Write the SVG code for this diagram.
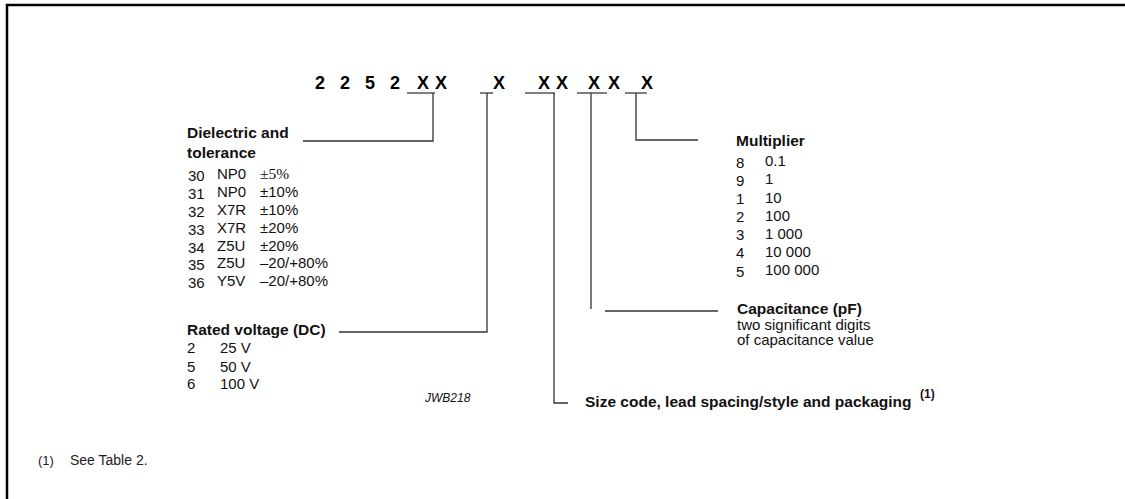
<svg xmlns="http://www.w3.org/2000/svg" width="1125" height="499" viewBox="0 0 1125 499">
<style>
text{font-family:"Liberation Sans",Arial,sans-serif;fill:#111}
.b{font-weight:bold;font-size:15.5px}
.r{font-size:15px}
.code{font-weight:bold;font-size:18px;fill:#000}
.ln{stroke:#333;stroke-width:1.3;fill:none}
.ul{stroke:#555;stroke-width:1.6;fill:none}
</style>
<rect width="1125" height="499" fill="#fff"/>
<path d="M7,499 V5 H1125" fill="none" stroke="#000" stroke-width="2.5"/>

<g id="code">
<text class="code" x="315" y="89">2</text>
<text class="code" x="340" y="89">2</text>
<text class="code" x="365" y="89">5</text>
<text class="code" x="390" y="89">2</text>
<text class="code" x="417" y="89">X</text>
<text class="code" x="435" y="89">X</text>
<text class="code" x="493" y="89">X</text>
<text class="code" x="538" y="89">X</text>
<text class="code" x="556" y="89">X</text>
<text class="code" x="588" y="89">X</text>
<text class="code" x="608" y="89">X</text>
<text class="code" x="641" y="89">X</text>
<path class="ul" d="M407,93 H435 M480,93 H493 M525,93 H555 M577,93 H607 M625,93 H647"/>
</g>

<g id="connectors">
<path class="ln" d="M433,93 V141 H303"/>
<path class="ln" d="M487,93 V332 H339"/>
<path class="ln" d="M554,93 V403 H568"/>
<path class="ln" d="M591,93 V309"/>
<path class="ln" d="M605,311 H718"/>
<path class="ln" d="M636,93 V140 H698"/>
</g>

<g id="dielectric">
<text class="b" x="187" y="138">Dielectric and</text>
<text class="b" x="187" y="158">tolerance</text>
<text class="r" x="188" y="180.5">30</text><text class="r" x="217" y="178.5">NP0</text><text x="260" y="178.5" style="font-family:'Liberation Serif',serif;font-size:15.5px">±5%</text>
<text class="r" x="188" y="198.5">31</text><text class="r" x="217" y="196.5">NP0</text><text class="r" x="260" y="196.5">±10%</text>
<text class="r" x="188" y="216.5">32</text><text class="r" x="217" y="214.5">X7R</text><text class="r" x="260" y="214.5">±10%</text>
<text class="r" x="188" y="234.5">33</text><text class="r" x="217" y="232.5">X7R</text><text class="r" x="260" y="232.5">±20%</text>
<text class="r" x="188" y="252.5">34</text><text class="r" x="217" y="250.5">Z5U</text><text class="r" x="260" y="250.5">±20%</text>
<text class="r" x="188" y="270">35</text><text class="r" x="217" y="268">Z5U</text><text class="r" x="260" y="268">–20/+80%</text>
<text class="r" x="188" y="288">36</text><text class="r" x="217" y="286">Y5V</text><text class="r" x="260" y="286">–20/+80%</text>
</g>

<g id="rated-voltage">
<text class="b" x="187" y="335">Rated voltage (DC)</text>
<text class="r" x="187" y="353">2</text><text class="r" x="220" y="353">25 V</text>
<text class="r" x="187" y="371.5">5</text><text class="r" x="220" y="371.5">50 V</text>
<text class="r" x="187" y="389">6</text><text class="r" x="220" y="389">100 V</text>
<text x="425" y="402" style="font-size:12px;font-style:italic">JWB218</text>
</g>

<g id="multiplier">
<text class="b" x="736" y="145.5">Multiplier</text>
<text class="r" x="736" y="168">8</text><text class="r" x="765" y="166">0.1</text>
<text class="r" x="736" y="186">9</text><text class="r" x="765" y="184">1</text>
<text class="r" x="736" y="204">1</text><text class="r" x="765" y="202.5">10</text>
<text class="r" x="736" y="222">2</text><text class="r" x="765" y="220.5">100</text>
<text class="r" x="736" y="240">3</text><text class="r" x="765" y="238.5">1 000</text>
<text class="r" x="736" y="258">4</text><text class="r" x="765" y="256.5">10 000</text>
<text class="r" x="736" y="276.5">5</text><text class="r" x="765" y="275">100 000</text>
</g>

<g id="capacitance">
<text class="b" x="737" y="314">Capacitance (pF)</text>
<text class="r" x="737" y="329.5">two significant digits</text>
<text class="r" x="737" y="344.5">of capacitance value</text>
</g>

<g id="size-code">
<text class="b" x="585" y="406.5">Size code, lead spacing/style and packaging</text>
<text x="920" y="398" style="font-weight:bold;font-size:12px">(1)</text>
</g>

<g id="footnote">
<text x="38" y="465" style="font-size:13px;fill:#222">(1)</text>
<text x="70" y="465" style="font-size:14px;fill:#222">See Table 2.</text>
</g>
</svg>
